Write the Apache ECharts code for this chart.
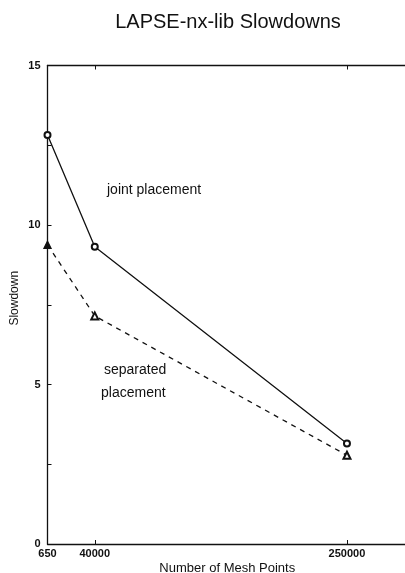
<!DOCTYPE html>
<html><head><meta charset="utf-8">
<script src="https://cdn.jsdelivr.net/npm/echarts@6/dist/echarts.min.js"></script>
<style>html,body{margin:0;padding:0;background:#fff}#c{width:405px;height:573px}</style>
</head><body><div id="c"></div>
<script>
const meshPoints = [650, 40000, 250000];
const jointValues = [12.82, 9.32, 3.15];
const separatedValues = [9.38, 7.15, 2.78];
const xTickLabels = [650, 40000, 250000];
const yTickLabels = [0, 5, 10, 15];

const FONT = 'Liberation Sans, Arial, sans-serif';
const chart = echarts.init(document.getElementById('c'));
const axisStyle = {lineStyle:{color:'#111', width:1.3}};
chart.setOption({
  animation:false,
  grid:{left:47.5, top:65.5, bottom:29, right:-2, containLabel:false, outerBoundsMode:'none'},
  xAxis:[{
    type:'value', min:650, max:300000, position:'bottom',
    name:'Number of Mesh Points', nameLocation:'middle', nameGap:18, nameMoveOverlap:false,
    nameTextStyle:{fontFamily:FONT, fontSize:13, color:'#111'},
    axisLine:axisStyle, splitLine:{show:false},
    axisTick:{inside:true, length:4, customValues:[40000,250000], lineStyle:{color:'#111'}},
    axisLabel:{customValues:xTickLabels, margin:4, fontFamily:FONT, fontSize:11, fontWeight:'bold', color:'#111',
      formatter:v => String(v)}
  },{
    type:'value', min:650, max:300000, position:'top',
    axisLine:axisStyle, splitLine:{show:false},
    axisTick:{inside:true, length:4, customValues:[40000,250000], lineStyle:{color:'#111'}},
    axisLabel:{show:false}
  }],
  yAxis:{
    type:'value', min:0, max:15, interval:2.5,
    name:'Slowdown', nameLocation:'middle', nameGap:27, nameMoveOverlap:false,
    nameTextStyle:{fontFamily:FONT, fontSize:12, color:'#111', padding:[0,0,0,13]},
    axisLine:{show:true, lineStyle:{color:'#111', width:1.3}}, splitLine:{show:false},
    axisTick:{inside:true, length:4, lineStyle:{color:'#111'}},
    axisLabel:{margin:7, fontFamily:FONT, fontSize:11, fontWeight:'bold', color:'#111',
      formatter:v => yTickLabels.includes(v) ? String(v) : ''}
  },
  series:[{
    type:'line', name:'joint placement',
    data:meshPoints.map((x,i)=>[x, jointValues[i]]),
    symbol:'emptyCircle', symbolSize:6,
    lineStyle:{color:'#111', width:1.3},
    itemStyle:{color:'#111', borderWidth:1.3}
  },{
    type:'line', name:'separated placement',
    data:meshPoints.map((x,i)=> i===0
      ? {value:[x, separatedValues[i]], symbol:'triangle', itemStyle:{color:'#111', borderColor:'#111'}}
      : [x, separatedValues[i]]),
    symbol:'emptyTriangle', symbolSize:7,
    lineStyle:{color:'#111', width:1.3, type:[5,5]},
    itemStyle:{color:'#111', borderWidth:1.3}
  }],
  graphic:[
    {type:'text', x:228, y:22, style:{text:'LAPSE-nx-lib Slowdowns', font:'20px '+FONT, fill:'#111', textAlign:'center', textVerticalAlign:'middle'}},
    {type:'text', left:107, top:183, style:{text:'joint placement', font:'14px '+FONT, fill:'#111'}},
    {type:'text', left:104, top:363, style:{text:'separated', font:'14px '+FONT, fill:'#111'}},
    {type:'text', left:101, top:386, style:{text:'placement', font:'14px '+FONT, fill:'#111'}}
  ]
});
</script></body></html>
